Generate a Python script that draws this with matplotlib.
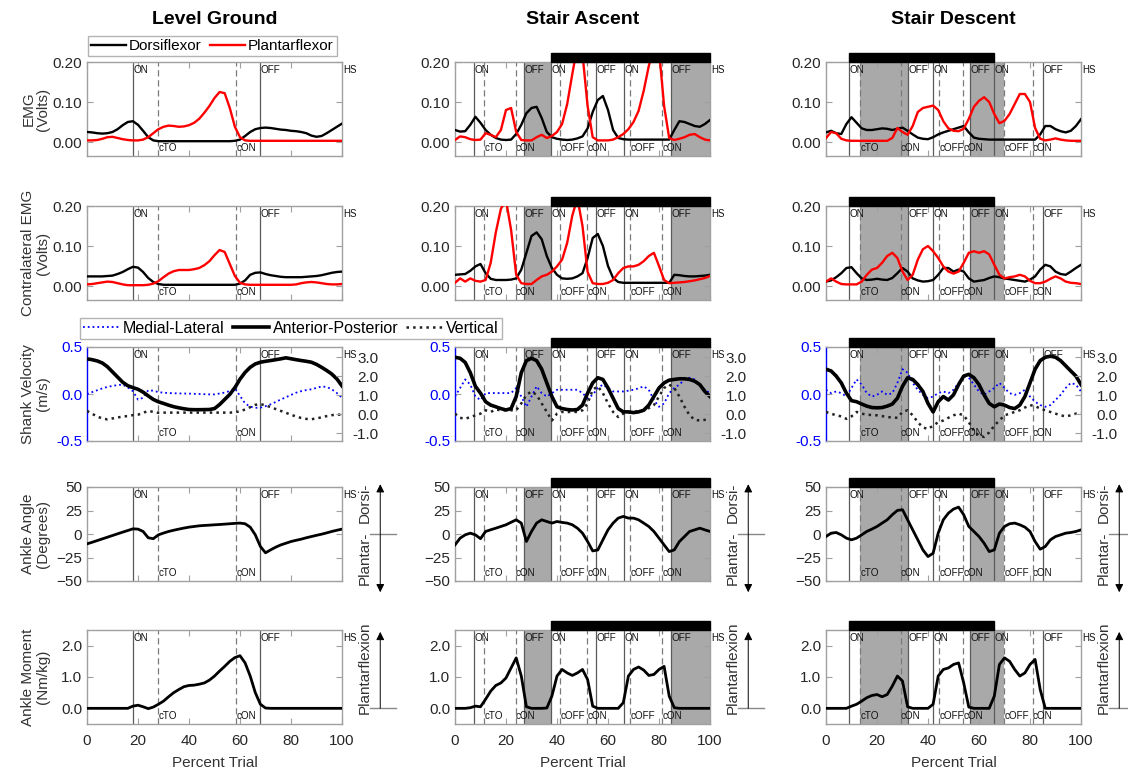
import matplotlib
matplotlib.use('Agg')
import matplotlib.pyplot as plt
from matplotlib.patches import Rectangle
import matplotlib.transforms as mtransforms

plt.rcParams['font.family'] = ['Liberation Sans', 'DejaVu Sans']

# ---------------- data (percent of trial, every 2 %) ----------------
PCT = list(range(0, 101, 2))

COLUMN_TITLES = ["Level Ground", "Stair Ascent", "Stair Descent"]
ROW_LABELS = ["EMG\n(Volts)", "Contralateral EMG\n(Volts)", "Shank Velocity\n(m/s)",
              "Ankle Angle\n(Degrees)", "Ankle Moment\n(Nm/kg)"]
X_TICKS = [0, 20, 40, 60, 80, 100]

# Row 1: EMG
LG_EMG_DF = [0.025, 0.024, 0.022, 0.021, 0.022, 0.025, 0.032, 0.042, 0.05, 0.052, 0.043, 0.028, 0.012, 0.004, 0.002,
             0.002, 0.002, 0.002, 0.002, 0.002, 0.002, 0.002, 0.002, 0.002, 0.002, 0.002, 0.002, 0.002, 0.002,
             0.003, 0.006, 0.015, 0.025, 0.032, 0.035, 0.036, 0.035, 0.033, 0.031, 0.03, 0.028, 0.027, 0.025, 0.022,
             0.016, 0.013, 0.015, 0.022, 0.03, 0.038, 0.046]
LG_EMG_PF = [0.004, 0.004, 0.005, 0.008, 0.012, 0.013, 0.01, 0.007, 0.005, 0.004, 0.004, 0.006, 0.012, 0.022, 0.032,
             0.038, 0.041, 0.04, 0.038, 0.039, 0.042, 0.048, 0.058, 0.073, 0.09, 0.11, 0.125, 0.122, 0.085, 0.038,
             0.012, 0.004, 0.003, 0.003, 0.003, 0.003, 0.003, 0.003, 0.003, 0.003, 0.003, 0.003, 0.003, 0.003, 0.003,
             0.003, 0.003, 0.003, 0.003, 0.003, 0.003]
SA_EMG_DF = [0.03, 0.026, 0.027, 0.043, 0.063, 0.048, 0.03, 0.018, 0.01, 0.006, 0.005, 0.006, 0.02, 0.043, 0.072,
             0.085, 0.088, 0.06, 0.025, 0.012, 0.008, 0.006, 0.005, 0.006, 0.009, 0.014, 0.034, 0.075, 0.105, 0.115,
             0.08, 0.03, 0.01, 0.007, 0.006, 0.006, 0.006, 0.006, 0.006, 0.006, 0.006, 0.006, 0.006, 0.03, 0.052,
             0.05, 0.045, 0.04, 0.038, 0.045, 0.055]
SA_EMG_PF = [0.005, 0.014, 0.012, 0.007, 0.005, 0.006, 0.022, 0.018, 0.012, 0.03, 0.08, 0.085, 0.025, 0.005, 0.004,
             0.004, 0.012, 0.018, 0.01, 0.015, 0.025, 0.045, 0.095, 0.17, 0.24, 0.22, 0.09, 0.012, 0.004, 0.004,
             0.004, 0.006, 0.012, 0.02, 0.032, 0.05, 0.078, 0.128, 0.19, 0.24, 0.23, 0.09, 0.01, 0.005, 0.008,
             0.012, 0.018, 0.02, 0.012, 0.006, 0.004]
SD_EMG_DF = [0.024, 0.028, 0.022, 0.02, 0.045, 0.062, 0.048, 0.034, 0.03, 0.03, 0.032, 0.034, 0.033, 0.03, 0.033,
             0.036, 0.028, 0.019, 0.011, 0.008, 0.007, 0.012, 0.019, 0.024, 0.028, 0.032, 0.036, 0.04, 0.024, 0.011,
             0.008, 0.007, 0.006, 0.006, 0.006, 0.006, 0.006, 0.006, 0.006, 0.006, 0.006, 0.006, 0.019, 0.04, 0.04,
             0.032, 0.027, 0.024, 0.028, 0.04, 0.057]
SD_EMG_PF = [0.01, 0.025, 0.022, 0.008, 0.004, 0.003, 0.003, 0.003, 0.003, 0.003, 0.003, 0.003, 0.003, 0.01, 0.035,
             0.025, 0.018, 0.04, 0.075, 0.085, 0.088, 0.091, 0.08, 0.052, 0.034, 0.028, 0.027, 0.033, 0.058, 0.088,
             0.103, 0.112, 0.1, 0.07, 0.047, 0.053, 0.07, 0.095, 0.12, 0.12, 0.1, 0.035, 0.008, 0.004, 0.006,
             0.009, 0.006, 0.004, 0.003, 0.003, 0.003]

# Row 2: contralateral EMG
LG_CEMG_DF = [0.024, 0.024, 0.024, 0.024, 0.025, 0.026, 0.03, 0.035, 0.042, 0.048, 0.046, 0.035, 0.02, 0.01, 0.005,
              0.003, 0.003, 0.003, 0.003, 0.003, 0.003, 0.003, 0.003, 0.003, 0.003, 0.003, 0.003, 0.003, 0.003,
              0.003, 0.006, 0.014, 0.028, 0.033, 0.034, 0.03, 0.027, 0.025, 0.023, 0.022, 0.022, 0.022, 0.022, 0.023,
              0.024, 0.025, 0.027, 0.03, 0.033, 0.035, 0.036]
LG_CEMG_PF = [0.004, 0.005, 0.007, 0.009, 0.011, 0.01, 0.007, 0.004, 0.002, 0.002, 0.002, 0.002, 0.003, 0.006, 0.012,
              0.022, 0.031, 0.037, 0.04, 0.04, 0.04, 0.042, 0.045, 0.052, 0.062, 0.077, 0.09, 0.085, 0.055, 0.025,
              0.008, 0.004, 0.003, 0.003, 0.003, 0.003, 0.003, 0.003, 0.003, 0.003, 0.003, 0.004, 0.007, 0.009, 0.01,
              0.009, 0.007, 0.005, 0.004, 0.004, 0.005]
SA_CEMG_DF = [0.028, 0.029, 0.03, 0.038, 0.049, 0.055, 0.032, 0.018, 0.015, 0.015, 0.015, 0.016, 0.019, 0.041, 0.083,
              0.125, 0.134, 0.117, 0.075, 0.045, 0.028, 0.019, 0.018, 0.019, 0.024, 0.032, 0.07, 0.12, 0.13, 0.1,
              0.05, 0.02, 0.01, 0.008, 0.008, 0.008, 0.008, 0.008, 0.008, 0.008, 0.008, 0.008, 0.008, 0.028, 0.027,
              0.025, 0.024, 0.024, 0.025, 0.026, 0.028]
SA_CEMG_PF = [0.008, 0.019, 0.011, 0.019, 0.013, 0.011, 0.015, 0.058, 0.134, 0.193, 0.215, 0.14, 0.028, 0.007, 0.005,
              0.005, 0.015, 0.024, 0.028, 0.036, 0.049, 0.066, 0.108, 0.176, 0.22, 0.15, 0.035, 0.007, 0.005, 0.005,
              0.008, 0.015, 0.032, 0.045, 0.049, 0.049, 0.053, 0.062, 0.075, 0.083, 0.05, 0.015, 0.007, 0.008, 0.009,
              0.01, 0.012, 0.014, 0.017, 0.02, 0.025]
SD_CEMG_DF = [0.011, 0.014, 0.022, 0.032, 0.045, 0.047, 0.032, 0.019, 0.015, 0.016, 0.018, 0.016, 0.015, 0.02, 0.032,
              0.045, 0.036, 0.019, 0.014, 0.011, 0.012, 0.015, 0.028, 0.045, 0.045, 0.036, 0.041, 0.036, 0.019, 0.011,
              0.013, 0.015, 0.02, 0.024, 0.022, 0.019, 0.017, 0.015, 0.013, 0.011, 0.016, 0.024, 0.041, 0.053, 0.049,
              0.036, 0.03, 0.028, 0.036, 0.045, 0.053]
SD_CEMG_PF = [0.011, 0.019, 0.011, 0.005, 0.004, 0.004, 0.004, 0.011, 0.028, 0.041, 0.045, 0.058, 0.075, 0.083, 0.07,
              0.036, 0.015, 0.028, 0.066, 0.092, 0.1, 0.087, 0.07, 0.049, 0.036, 0.031, 0.036, 0.058, 0.083, 0.087,
              0.083, 0.087, 0.079, 0.053, 0.028, 0.019, 0.022, 0.024, 0.028, 0.024, 0.013, 0.007, 0.007, 0.011, 0.018,
              0.024, 0.019, 0.011, 0.008, 0.007, 0.005]

# Row 3: shank velocity (m/s)
LG_VEL_ML = [0.0, 0.02, 0.04, 0.06, 0.075, 0.086, 0.095, 0.1, 0.07, 0.03, -0.06, -0.04, 0.04, 0.035, 0.02,
             0.014, 0.01, 0.008, 0.006, 0.005, 0.004, 0.002, 0.0, -0.002, -0.004, -0.004, 0.005, 0.015, 0.032, 0.06,
             -0.02, -0.1, -0.135, -0.147, -0.145, -0.13, -0.11, -0.085, -0.058, -0.035, -0.01, 0.014, 0.03, 0.042, 0.05,
             0.065, 0.08, 0.075, 0.05, 0.01, -0.04]
LG_VEL_AP = [0.374, 0.365, 0.352, 0.33, 0.29, 0.235, 0.18, 0.125, 0.088, 0.068, 0.05, 0.02, -0.02, -0.058, -0.083,
             -0.1, -0.119, -0.135, -0.147, -0.157, -0.165, -0.167, -0.167, -0.166, -0.165, -0.155, -0.112, -0.058,
             -0.004, 0.068, 0.158, 0.23, 0.284, 0.32, 0.338, 0.348, 0.356, 0.365, 0.374, 0.385, 0.375, 0.365, 0.356,
             0.348, 0.338, 0.315, 0.284, 0.25, 0.212, 0.16, 0.086]
LG_VEL_V = [-0.18, -0.21, -0.24, -0.26, -0.27, -0.26, -0.25, -0.24, -0.235, -0.225, -0.22, -0.2, -0.18, -0.19, -0.2,
            -0.198, -0.198, -0.198, -0.198, -0.198, -0.198, -0.198, -0.198, -0.198, -0.198, -0.198, -0.198, -0.198,
            -0.198, -0.195, -0.183, -0.165, -0.14, -0.115, -0.108, -0.12, -0.14, -0.16, -0.18, -0.2, -0.22, -0.24,
            -0.255, -0.265, -0.268, -0.26, -0.248, -0.235, -0.225, -0.22, -0.22]
SA_VEL_ML = [-0.027, 0.064, 0.155, 0.1, -0.027, -0.064, 0.009, 0.01, 0.01, 0.01, 0.01, 0.01, 0.064, -0.027, -0.136,
             -0.027, 0.082, 0.009, -0.027, 0.009, 0.045, 0.045, 0.045, 0.045, 0.045, 0.009, -0.045, -0.009, 0.064, 0.1,
             0.064, 0.027, 0.027, 0.027, 0.035, 0.045, 0.06, 0.082, 0.045, -0.064, -0.136, -0.1, 0.009, 0.064, 0.1,
             0.155, 0.173, 0.155, 0.1, 0.045, 0.009]
SA_VEL_AP = [0.391, 0.38, 0.336, 0.227, 0.082, 0.009, -0.082, -0.118, -0.136, -0.155, -0.17, -0.155, -0.027, 0.227,
             0.355, 0.38, 0.355, 0.264, 0.118, -0.027, -0.136, -0.155, -0.165, -0.17, -0.165, -0.118, 0.009, 0.118,
             0.173, 0.155, 0.064, -0.045, -0.155, -0.19, -0.19, -0.198, -0.19, -0.173, -0.118, -0.027, 0.064, 0.118,
             0.147, 0.155, 0.162, 0.162, 0.155, 0.136, 0.1, 0.027, -0.027]
SA_VEL_V = [-0.209, -0.253, -0.264, -0.245, -0.227, -0.209, -0.173, -0.191, -0.165, -0.173, -0.173, -0.173, -0.173,
            -0.1, -0.009, 0.027, -0.009, -0.1, -0.191, -0.282, -0.209, -0.191, -0.191, -0.191, -0.191, -0.173, -0.1,
            0.045, 0.082, 0.009, -0.1, -0.191, -0.245, -0.209, -0.2, -0.191, -0.182, -0.173, -0.15, -0.118, -0.027,
            0.064, 0.1, 0.064, -0.027, -0.136, -0.227, -0.275, -0.282, -0.275, -0.275]
SD_VEL_ML = [0.045, 0.009, 0.027, 0.009, -0.027, 0.064, 0.155, 0.1, 0.009, -0.027, -0.009, 0.027, -0.009, 0.009, 0.118,
             0.264, 0.227, 0.118, 0.045, -0.009, -0.045, -0.027, 0.009, 0.027, 0.009, 0.045, 0.118, 0.191, 0.173, 0.1,
             0.027, -0.009, 0.027, 0.064, 0.118, 0.064, 0.009, -0.009, 0.009, 0.045, -0.027, -0.082, -0.118, -0.136,
             -0.118, -0.064, -0.009, 0.064, 0.118, 0.1, 0.027]
SD_VEL_AP = [0.264, 0.245, 0.191, 0.118, 0.009, -0.071, -0.082, -0.107, -0.129, -0.144, -0.147, -0.144, -0.129, -0.107,
             -0.045, 0.082, 0.173, 0.155, 0.1, 0.027, -0.1, -0.191, -0.082, -0.027, -0.064, -0.009, 0.1, 0.191, 0.209,
             0.173, 0.1, -0.009, -0.1, -0.136, -0.107, -0.118, -0.144, -0.155, -0.118, -0.027, 0.118, 0.264, 0.355,
             0.391, 0.402, 0.391, 0.355, 0.3, 0.245, 0.191, 0.1]
SD_VEL_V = [-0.191, -0.209, -0.227, -0.238, -0.264, -0.238, -0.191, -0.209, -0.22, -0.224, -0.227, -0.235, -0.245,
            -0.25, -0.253, -0.191, -0.173, -0.227, -0.3, -0.355, -0.373, -0.336, -0.3, -0.282, -0.253, -0.227, -0.209,
            -0.227, -0.3, -0.391, -0.445, -0.456, -0.409, -0.336, -0.282, -0.227, -0.209, -0.191, -0.173, -0.144,
            -0.118, -0.129, -0.155, -0.173, -0.191, -0.209, -0.227, -0.238, -0.227, -0.209, -0.202]

# Row 4: ankle angle (deg)
LG_ANGLE = [-10.5, -8.8, -7, -5.2, -3.4, -1.6, 0.2, 2, 3.7, 5.5, 5.2, 2.7, -4, -5, -0.9, 1, 2.7, 4, 5.2, 6.3, 7.3, 8,
            8.7, 9.1, 9.4, 9.8, 10.1, 10.5, 10.9, 11.3, 11.6, 10.9, 7.3, -0.9, -13.3, -20, -16.9, -14, -11.6, -9.8, -8,
            -6.7, -5.5, -4, -2.7, -1.4, -0.2, 1.2, 2.7, 4, 5.2]
SA_ANGLE = [-11.6, -4.4, -0.9, 0.9, -0.9, -5, 2.7, 4.5, 6.2, 8, 9.8, 12.5, 15.1, 11.6, -8, 2.7, 11.6, 15.1, 13.3, 11.6,
            13.3, 12.3, 11.6, 9.8, 6.2, 0.9, -8, -18, -17, -6.2, 4.4, 11.6, 16.9, 18.7, 16.9, 16.9, 15.1, 11.6, 8, 2.7,
            -4.4, -11.6, -18.7, -16.9, -8, -2.7, 2.7, 4.4, 6.2, 4.4, 2.7]
SD_ANGLE = [-2.7, 0.9, 1.6, -0.9, -4.4, -6.2, -4.4, -0.9, 2.7, 5.2, 8, 11.6, 15.1, 20.5, 25.1, 25.8, 15.1, 4.4, -6.2,
            -16.9, -24, -20.5, 0.9, 15.1, 22.2, 26.5, 28.6, 20.5, 8, 2.7, -2.7, -9.8, -18.7, -16.9, 0.9, 8, 10.9, 11.6,
            9.8, 7.3, 2.7, -8, -16.2, -13.3, -6.2, -2.7, -0.9, 0.9, 1.6, 2.7, 4.4]

# Row 5: ankle moment (Nm/kg)
LG_MOMENT = [0, 0, 0, 0, 0, 0, 0, 0, 0, 0.07, 0.1, 0.05, -0.01, 0.04, 0.13, 0.23, 0.37, 0.5, 0.6, 0.69, 0.73, 0.74,
             0.77, 0.81, 0.9, 1.03, 1.19, 1.34, 1.5, 1.62, 1.68, 1.45, 1.03, 0.5, 0.13, 0.01, 0, 0, 0, 0, 0, 0, 0, 0,
             0, 0, 0, 0, 0, 0, 0]
SA_MOMENT = [0, 0, 0, 0.02, 0.07, 0.05, 0.29, 0.55, 0.73, 0.81, 0.97, 1.29, 1.61, 1.03, 0.05, 0, 0, 0, 0.01, 0.39,
             1.03, 1.24, 1.13, 1.05, 1.13, 1.24, 0.92, 0.07, 0, 0, 0, 0, 0, 0.18, 1.03, 1.24, 1.32, 1.22, 1.05, 1.08,
             1.24, 1.34, 0.39, 0.02, 0, 0, 0, 0, 0, 0, 0]
SD_MOMENT = [0, 0, 0, 0, 0, 0.07, 0.13, 0.23, 0.34, 0.41, 0.44, 0.37, 0.44, 0.71, 1.03, 0.87, 0.05, 0, 0, 0, 0, 0.13,
             1.03, 1.24, 1.29, 1.4, 1.45, 0.81, 0.04, 0, 0, 0, 0, 0.39, 1.4, 1.61, 1.5, 1.24, 1.03, 1.13, 1.4, 1.56,
             0.6, 0.0, 0, 0, 0, 0, 0, 0, 0]

# Gait events per condition
TOP_EVENTS = [[(18, 'ON'), (68, 'OFF')],
              [(7.5, 'ON'), (27.2, 'OFF'), (37.8, 'ON'), (55.2, 'OFF'), (66.3, 'ON'), (84.8, 'OFF')],
              [(9, 'ON'), (32, 'OFF'), (42, 'ON'), (56.5, 'OFF'), (66, 'ON'), (85, 'OFF')]]
BOTTOM_EVENTS = [[(28, 'cTO'), (58.5, 'cON')],
                 [(11.5, 'cTO'), (23.8, 'cON'), (41.2, 'cOFF'), (51.8, 'cON'), (68.6, 'cOFF'), (81.2, 'cON')],
                 [(13.5, 'cTO'), (29.3, 'cON'), (44.5, 'cOFF'), (53.7, 'cON'), (69.8, 'cOFF'), (81, 'cON')]]
SHADED = [[], [(27.2, 37.8), (84.8, 100)], [(13.5, 32), (56.5, 69.8)]]
BARS = [None, (37.8, 100), (9, 66)]

EMG = [(LG_EMG_DF, LG_EMG_PF), (SA_EMG_DF, SA_EMG_PF), (SD_EMG_DF, SD_EMG_PF)]
CEMG = [(LG_CEMG_DF, LG_CEMG_PF), (SA_CEMG_DF, SA_CEMG_PF), (SD_CEMG_DF, SD_CEMG_PF)]
VEL = [(LG_VEL_ML, LG_VEL_AP, LG_VEL_V), (SA_VEL_ML, SA_VEL_AP, SA_VEL_V), (SD_VEL_ML, SD_VEL_AP, SD_VEL_V)]
ANGLE = [LG_ANGLE, SA_ANGLE, SD_ANGLE]
MOMENT = [LG_MOMENT, SA_MOMENT, SD_MOMENT]

# ---------------- layout ----------------
FW, FH = 1128, 772
fig = plt.figure(figsize=(FW / 100, FH / 100), dpi=100)
COL_LEFT = [87, 455, 826]
COL_W = 255
ROW_TOP = [62, 206, 347, 487, 630]
ROW_H = 94
SPINE = '#A0A0A0'
TXT = '#262626'
EV_FS = 7.1

def make_ax(r, c):
    return fig.add_axes([COL_LEFT[c] / FW, 1 - (ROW_TOP[r] + ROW_H) / FH, COL_W / FW, ROW_H / FH])

def style(ax, r, c, right=True):
    ax.set_xlim(0, 100)
    ax.set_xticks(X_TICKS)
    for s in ax.spines.values():
        s.set_color(SPINE)
        s.set_linewidth(1.0)
    ax.tick_params(direction='in', length=4, color=SPINE, top=True, right=right,
                   labelsize=11, labelcolor=TXT, width=0.8)
    ax.tick_params(axis='x', pad=7)
    if r < 4:
        ax.tick_params(labelbottom=False)
    if c == 0:
        ax.set_ylabel(ROW_LABELS[r], fontsize=11, color='#333333', linespacing=1.05)
        ax.yaxis.set_label_coords(-0.145, 0.5)

def events(ax, c):
    tr = mtransforms.blended_transform_factory(ax.transData, ax.transAxes)
    for a, b in SHADED[c]:
        ax.axvspan(a, b, color='#A9A9A9', lw=0, zorder=0)
    for x, lab in TOP_EVENTS[c]:
        ax.axvline(x, color='#5a5a5a', lw=0.9, zorder=1)
        ax.text(x + 0.2, 0.97, lab, transform=tr, fontsize=EV_FS, va='top', ha='left', color='#111111', zorder=5)
    for x, lab in BOTTOM_EVENTS[c]:
        ax.axvline(x, color='#7a7a7a', lw=0.9, ls=(0, (5, 3)), zorder=1)
        ax.text(x + 0.1, 0.03, lab, transform=tr, fontsize=EV_FS, va='bottom', ha='left', color='#111111', zorder=5)
    ax.text(100.5, 0.97, 'HS', transform=tr, fontsize=7, va='top', ha='left', color='#111111', clip_on=False)
    if BARS[c] is not None:
        a, b = BARS[c]
        ax.add_patch(Rectangle((a, 1.005), b - a, 0.09, transform=tr, color='black', clip_on=False, zorder=6))

for c in range(3):
    # Row 1 & 2: EMG
    for r, data in ((0, EMG), (1, CEMG)):
        ax = make_ax(r, c)
        events(ax, c)
        df, pf = data[c]
        ax.plot(PCT, df, color='black', lw=1.7, zorder=3, label='Dorsiflexor')
        ax.plot(PCT, pf, color='#FF0000', lw=1.7, zorder=3, label='Plantarflexor')
        ax.set_ylim(-0.035, 0.2)
        ax.set_yticks([0, 0.1, 0.2])
        ax.set_yticklabels(['0.00', '0.10', '0.20'])
        style(ax, r, c)
        if r == 0 and c == 0:
            fig.legend(handles=ax.get_lines()[-2:], loc='lower left',
                       bbox_to_anchor=(88 / FW, 1 - 56 / FH), ncol=2, fontsize=11,
                       frameon=True, fancybox=False, edgecolor='#A0A0A0', handlelength=2.3,
                       handletextpad=0.2, columnspacing=0.5, borderpad=0.2, borderaxespad=0)

    # Row 3: velocity
    ax = make_ax(2, c)
    events(ax, c)
    ml, ap, vv = VEL[c]
    l1, = ax.plot(PCT, ml, color='#0000FF', lw=1.3, ls=':', zorder=3, label='Medial-Lateral')
    l2, = ax.plot(PCT, ap, color='black', lw=2.6, zorder=4, label='Anterior-Posterior')
    l3, = ax.plot(PCT, vv, color='#222222', lw=1.8, ls=':', zorder=3, label='Vertical')
    ax.set_ylim(-0.5, 0.5)
    ax.set_yticks([-0.5, 0, 0.5])
    ax.set_yticklabels(['-0.5', '0.0', '0.5'])
    style(ax, 2, c, right=False)
    ax.tick_params(axis='y', labelcolor='#0000FF')
    ax.spines['left'].set_color('#0000FF')
    ax2 = ax.twinx()
    ax2.set_ylim(-1.42, 3.53)
    ax2.set_yticks([-1, 0, 1, 2, 3])
    ax2.set_yticklabels(['-1.0', '0.0', '1.0', '2.0', '3.0'])
    ax2.tick_params(direction='in', length=4, color=SPINE, labelsize=11, labelcolor=TXT, pad=26.5)
    for t in ax2.get_yticklabels():
        t.set_horizontalalignment('right')
    for s in ax2.spines.values():
        s.set_visible(False)
    if c == 0:
        fig.legend(handles=[l1, l2, l3], loc='lower left', bbox_to_anchor=(80 / FW, 1 - 339 / FH), ncol=3,
                   fontsize=11.5, frameon=True, fancybox=False, edgecolor='#A0A0A0', handlelength=2.3,
                   handletextpad=0.2, columnspacing=0.5, borderpad=0.2, borderaxespad=0)

    # Row 4: angle
    ax = make_ax(3, c)
    events(ax, c)
    ax.plot(PCT, ANGLE[c], color='black', lw=2.0, zorder=3)
    ax.set_ylim(-50, 50)
    ax.set_yticks([-50, -25, 0, 25, 50])
    style(ax, 3, c)
    ax.annotate('', xy=(1.15, 1.03), xytext=(1.15, -0.12), xycoords='axes fraction',
                arrowprops=dict(arrowstyle='<|-|>', color='black', lw=0.7, mutation_scale=12,
                                shrinkA=0, shrinkB=0), annotation_clip=False)
    ax.plot([1.11, 1.21], [0.5, 0.5], transform=ax.transAxes, color='#888888', lw=1, clip_on=False)
    ax.text(1.09, 0.83, 'Dorsi-', transform=ax.transAxes, rotation=90, fontsize=11, ha='center',
            va='center', color='#333333')
    ax.text(1.09, 0.24, 'Plantar-', transform=ax.transAxes, rotation=90, fontsize=11, ha='center',
            va='center', color='#333333')

    # Row 5: moment
    ax = make_ax(4, c)
    events(ax, c)
    ax.plot(PCT, MOMENT[c], color='black', lw=2.0, zorder=3)
    ax.set_ylim(-0.5, 2.5)
    ax.set_yticks([0, 1, 2])
    ax.set_yticklabels(['0.0', '1.0', '2.0'])
    style(ax, 4, c)
    ax.set_xlabel('Percent Trial', fontsize=11, color='#333333', labelpad=6)
    ax.annotate('', xy=(1.15, 0.98), xytext=(1.15, 0.167), xycoords='axes fraction',
                arrowprops=dict(arrowstyle='-|>', color='black', lw=0.7, mutation_scale=12,
                                shrinkA=0, shrinkB=0), annotation_clip=False)
    ax.plot([1.11, 1.21], [0.167, 0.167], transform=ax.transAxes, color='#888888', lw=1, clip_on=False)
    ax.text(1.09, 0.6, 'Plantarflexion', transform=ax.transAxes, rotation=90, fontsize=11, ha='center',
            va='center', color='#333333')

    fig.text((COL_LEFT[c] + COL_W / 2) / FW, 1 - 20 / FH, COLUMN_TITLES[c], fontsize=14, fontweight='bold',
             ha='center', va='center', color='black')

fig.savefig('out.png', dpi=100)
